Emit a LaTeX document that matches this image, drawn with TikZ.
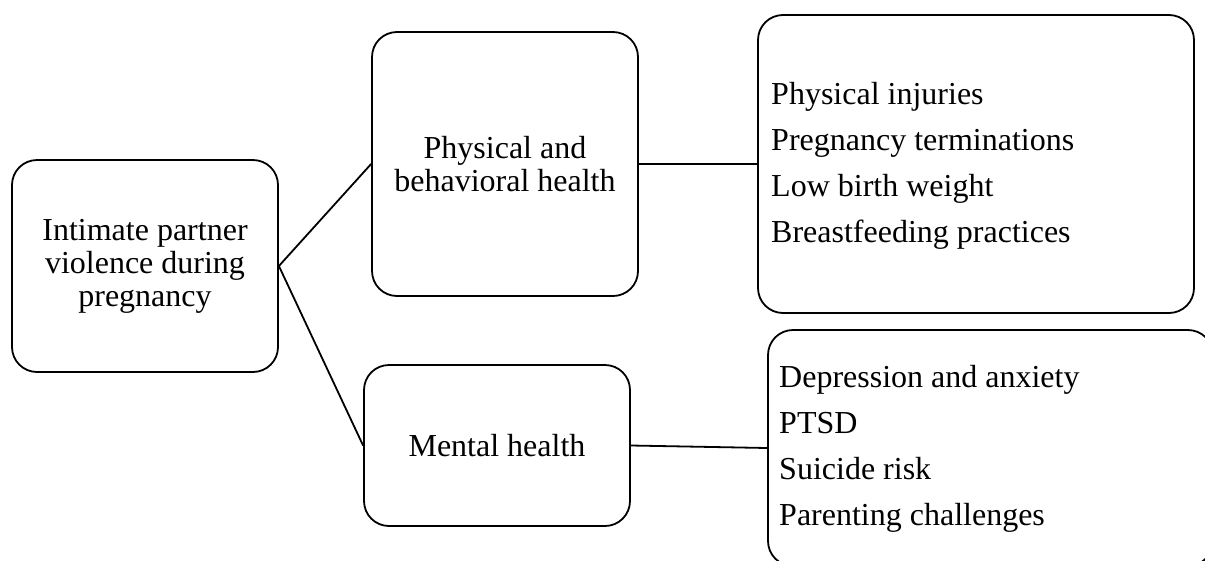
\documentclass[tikz,border=0pt]{standalone}
\usepackage{fontspec}
\setmainfont{Liberation Serif}
\begin{document}
\begin{tikzpicture}[x=1pt,y=-1pt,
  box/.style={draw, line width=1.8pt, rounded corners=25pt, inner sep=0pt, align=center,
    font=\fontsize{32}{33}\selectfont},
  listtext/.style={inner sep=0pt, align=left, anchor=west,
    font=\fontsize{32}{46}\selectfont},
  link/.style={line width=1.8pt}]
\useasboundingbox (0,0) rectangle (1205,560);
\node[box, minimum width=266pt, minimum height=212pt] (ipv) at (145,266)
  {Intimate partner\\violence during\\pregnancy};
\node[box, minimum width=266pt, minimum height=264pt] (phys) at (505,164)
  {Physical and\\behavioral health};
\node[box, minimum width=266pt, minimum height=161pt] (mental) at (497,445.5)
  {Mental health};
\node[box, minimum width=436pt, minimum height=298pt] (physout) at (976,164) {};
\node[box, minimum width=445pt, minimum height=236pt] (mentout) at (990.5,448) {};
\node[listtext] (physlist) at (771,165.5)
  {Physical injuries\\Pregnancy terminations\\Low birth weight\\Breastfeeding practices};
\node[listtext] (mentlist) at (779,449)
  {Depression and anxiety\\PTSD\\Suicide risk\\Parenting challenges};
\draw[link] (ipv.east) -- (phys.west);
\draw[link] (ipv.east) -- (mental.west);
\draw[link] (phys.east) -- (physout.west);
\draw[link] (mental.east) -- (mentout.west);
\end{tikzpicture}
\end{document}
